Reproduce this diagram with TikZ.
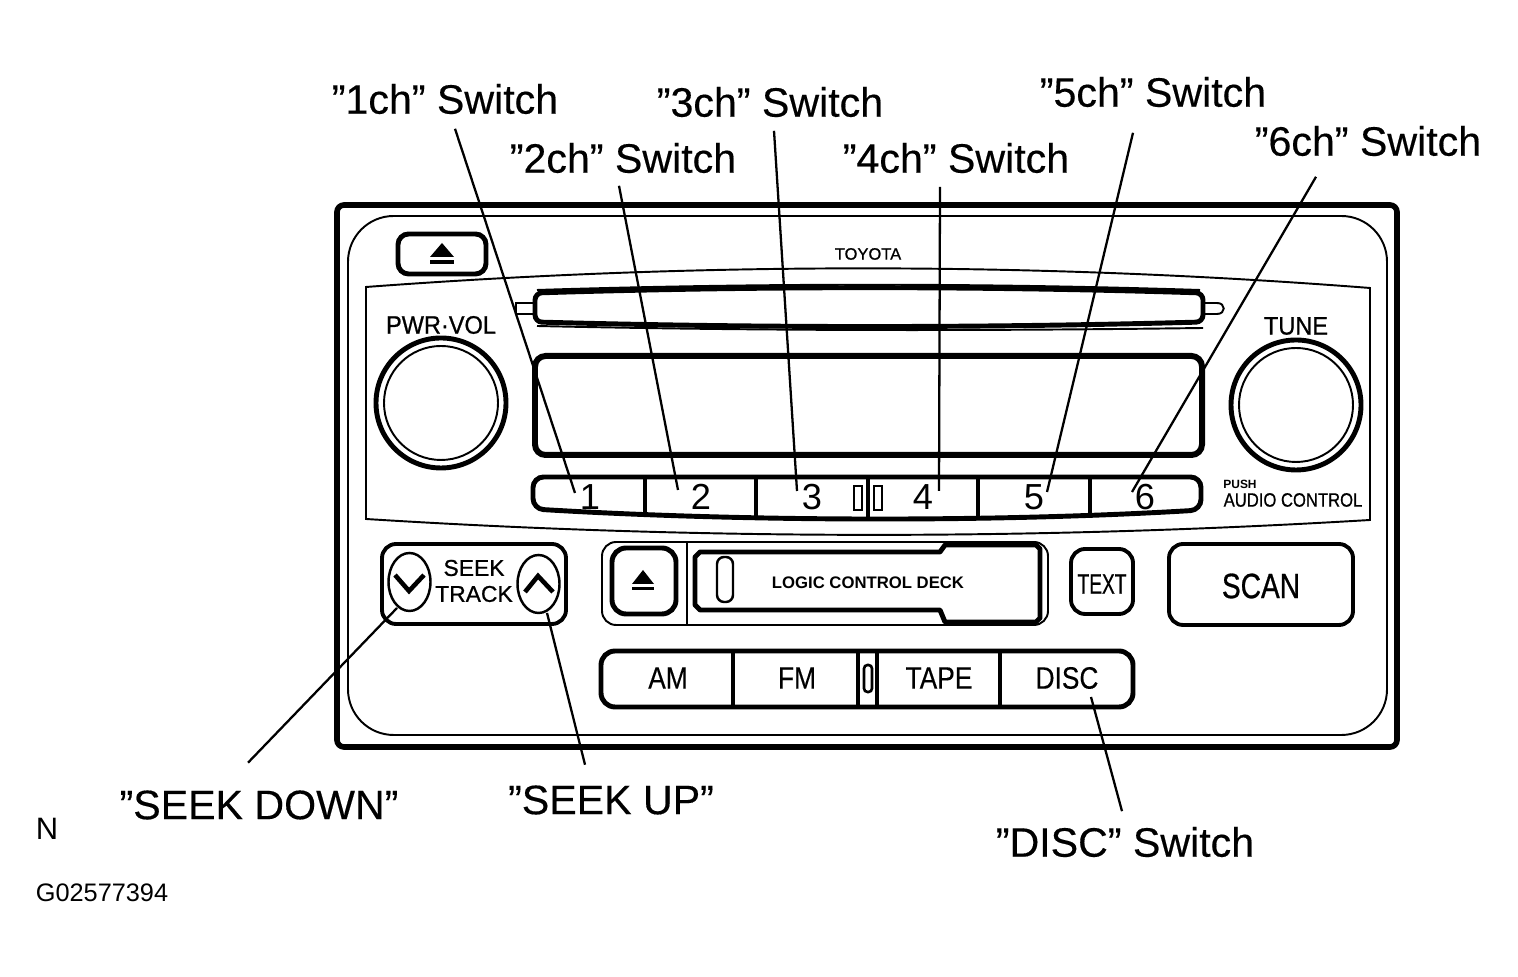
\documentclass[tikz,border=0pt]{standalone}
\usepackage{xcolor}
\usepackage{fontspec}
\setmainfont{Liberation Sans}
\newfontfamily\inkfont[FakeBold=0.35]{Liberation Sans}
\newfontfamily\darkfont[FakeBold=0.8]{Liberation Sans}
\usepackage{tikz}
\usetikzlibrary{positioning}
\newcommand{\squeezed}[2][0.85]{\scalebox{#1}[1]{#2}}
\tikzset{
  callout/.style={inner sep=0pt, font=\fontsize{11.7}{14}\selectfont\inkfont},
  keytext/.style={inner sep=0pt, font=\fontsize{8.8}{10}\selectfont\inkfont},
  numtext/.style={inner sep=0pt, font=\fontsize{10.3}{12}\selectfont},
  smalltext/.style={inner sep=0pt, font=\fontsize{7.2}{9}\selectfont\darkfont},
  heavy/.style={line width=1.4pt, rounded corners=3pt},
  medium/.style={line width=1.1pt},
  fine/.style={line width=0.55pt},
  leader/.style={line width=0.65pt}
}

\begin{document}
\begin{tikzpicture}[x=0.01cm, y=-0.01cm]
  \useasboundingbox (0,0) rectangle (1518,977);

  % Housing
  \draw[line width=1.6pt, rounded corners=2pt] (337,205) rectangle (1397,747);
  \draw[fine, rounded corners=13pt] (348,216) rectangle (1387,735);
  \draw[fine] (366,287) .. controls (700,262) and (1036,262) .. (1370,288) -- (1370,520) .. controls (1036,540) and (700,540) .. (366,519) -- cycle; % Face plate
  \node[inner sep=0pt, font=\fontsize{4.7}{6}\selectfont\darkfont] (toyota) at (868,254) {TOYOTA};

  % Top eject
  \draw[heavy] (398,234) rectangle (486,274);
  \fill (442,243) -- (454,257) -- (430,257) -- cycle;
  \fill (430,260) rectangle (454,264);

  % Disc slot
  \draw[heavy, rounded corners=2pt] (535,293) .. controls (760,286) and (980,286) .. (1203,293) -- (1203,322) .. controls (980,328) and (760,328) .. (535,322) -- cycle;
  \draw[fine] (537,290) .. controls (760,283) and (980,283) .. (1200,290); % Upper lip
  \draw[fine] (537,326) .. controls (760,331) and (980,331) .. (1203,328); % Lower lip
  \draw[fine] (535,303) -- (516,303) -- (516,314) -- (535,314); % Left tab
  \draw[fine] (1203,303) -- (1217,303) .. controls (1226,303) and (1226,314) .. (1217,314) -- (1203,314); % Right tab

  % Display
  \draw[line width=1.7pt, rounded corners=3pt] (535,356) rectangle (1202,455);

  % Knobs
  \draw[line width=1.4pt] (441,403) circle (65);
  \draw[fine] (441,403) circle (57);
  \node[smalltext] (pwrvol) at (441,325) {\squeezed[0.93]{PWR·VOL}};
  \draw[line width=1.4pt] (1296,405) circle (65);
  \draw[fine] (1296,405) circle (57);
  \node[smalltext] (tune) at (1296,326) {\squeezed[0.93]{TUNE}};
  \node[inner sep=0pt, font=\fontsize{3.4}{4}\selectfont\bfseries] (push) at (1240,484) {PUSH};
  \node[inner sep=0pt, font=\fontsize{5.5}{6}\selectfont\darkfont] (audio) at (1293,500) {\squeezed[0.86]{AUDIO CONTROL}};

  % Preset row
  \draw[heavy] (533,477) -- (1201,477) -- (1201,510) .. controls (1000,522) and (750,522) .. (533,509) -- cycle;
  \draw[medium] (645,477) -- (645,515);
  \draw[medium] (756,477) -- (756,518);
  \draw[medium] (868,477) -- (868,519);
  \draw[medium] (978,477) -- (978,519);
  \draw[medium] (1090,477) -- (1090,516);
  \draw[line width=0.75pt] (854,486) rectangle (862,510);
  \draw[line width=0.75pt] (874,486) rectangle (882,510);
  \node[numtext] (numone) at (590,497) {1};
  \node[numtext] (numtwo) at (701,497) {2};
  \node[numtext] (numthree) at (812,497) {3};
  \node[numtext] (numfour) at (923,497) {4};
  \node[numtext] (numfive) at (1034,497) {5};
  \node[numtext] (numsix) at (1145,497) {6};

  % Seek
  \draw[medium, rounded corners=4pt] (382,544) rectangle (566,624);
  \draw[line width=0.7pt] (409.5,582) ellipse (21 and 29);
  \draw[line width=0.7pt] (538.5,584) ellipse (21 and 29);
  \draw[line width=1.3pt] (395,575) -- (409,591) -- (424,575);
  \draw[line width=1.3pt] (525,592) -- (538,576) -- (553,592);
  \node[inner sep=0pt, font=\fontsize{6.5}{8}\selectfont\darkfont] (seek) at (474,568) {SEEK};
  \node[inner sep=0pt, font=\fontsize{6.5}{8}\selectfont\darkfont] (track) at (474,594) {TRACK};

  % Tape deck
  \draw[fine, rounded corners=4pt] (602,542) rectangle (1048,625);
  \draw[fine] (687,542) -- (687,624);
  \draw[heavy, rounded corners=4pt] (612,548) rectangle (676,614);
  \fill (643,570) -- (654,584) -- (632,584) -- cycle;
  \fill (632,587) rectangle (654,590);
  \draw[line width=1.4pt, line join=round] (700,552) -- (940,552) -- (945,545) -- (1036,545) -- (1040,549) -- (1040,618) -- (1036,622) -- (945,622) -- (940,610) -- (700,610) -- (695,605) -- (695,557) -- cycle;
  \draw[line width=0.7pt, rounded corners=2pt] (717,557) rectangle (733,602);
  \node[inner sep=0pt, font=\fontsize{4.75}{6}\selectfont\bfseries] (deck) at (868,583) {LOGIC CONTROL DECK};

  % Text and scan
  \draw[medium, rounded corners=4pt] (1071,549) rectangle (1133,614);
  \node[inner sep=0pt, font=\fontsize{8}{10}\selectfont\darkfont] (textkey) at (1102,584) {\squeezed[0.68]{TEXT}};
  \draw[medium, rounded corners=4pt] (1169,544) rectangle (1353,625);
  \node[inner sep=0pt, font=\fontsize{10}{12}\selectfont\darkfont] (scan) at (1261,586) {\squeezed[0.8]{SCAN}};

  % Source row
  \draw[heavy, rounded corners=4pt] (601,651) rectangle (1133,707);
  \draw[medium] (733,651) -- (733,707);
  \draw[medium] (858,651) -- (858,707);
  \draw[medium] (877,651) -- (877,707);
  \draw[medium] (1000,651) -- (1000,707);
  \draw[line width=0.75pt, rounded corners=1pt] (864,665) rectangle (872,692);
  \node[keytext] (amkey) at (668,678) {\squeezed{AM}};
  \node[keytext] (fmkey) at (797,678) {\squeezed{FM}};
  \node[keytext] (tapekey) at (939,678) {\squeezed{TAPE}};
  \node[keytext] (disckey) at (1067,678) {\squeezed{DISC}};

  % Callouts
  \node[callout] (chone) at (445,99) {”1ch” Switch};
  \node[callout] (chtwo) at (623,158) {”2ch” Switch};
  \node[callout] (chthree) at (770,102) {”3ch” Switch};
  \node[callout] (chfour) at (956,158) {”4ch” Switch};
  \node[callout] (chfive) at (1153,92) {”5ch” Switch};
  \node[callout] (chsix) at (1368,141) {”6ch” Switch};
  \node[callout] (seekdown) at (259,805) {”SEEK DOWN”};
  \node[callout] (seekup) at (611,800) {”SEEK UP”};
  \node[callout] (discsw) at (1125,842) {”DISC” Switch};
  \node[inner sep=0pt, font=\fontsize{8.8}{10}\selectfont] (north) at (47,829) {N};
  \node[inner sep=0pt, font=\fontsize{7.2}{9}\selectfont] (code) at (102,893) {G02577394};

  % Leaders
  \coordinate (tipone) at (575,493);
  \coordinate (tiptwo) at (678,490);
  \coordinate (tipthree) at (797,491);
  \coordinate (tipfour) at (939,491);
  \coordinate (tipfive) at (1047,492);
  \coordinate (tipsix) at (1132,492);
  \coordinate (tipdown) at (397,608);
  \coordinate (tipup) at (547,613);
  \coordinate (tipdisc) at (1091,697);
  \draw[leader] ([shift={(10,14)}]chone.south) -- (tipone);
  \draw[leader] ([shift={(-4,12)}]chtwo.south) -- (tiptwo);
  \draw[leader] ([shift={(4,13)}]chthree.south) -- (tipthree);
  \draw[leader] ([shift={(-16,13)}]chfour.south) -- (tipfour);
  \draw[leader] ([shift={(-20,25)}]chfive.south) -- (tipfive);
  \draw[leader] ([shift={(-52,20)}]chsix.south) -- (tipsix);
  \draw[leader] ([shift={(-11,-27)}]seekdown.north) -- (tipdown);
  \draw[leader] ([shift={(-26,-20)}]seekup.north) -- (tipup);
  \draw[leader] ([shift={(-3,-15)}]discsw.north) -- (tipdisc);
\end{tikzpicture}
\end{document}
